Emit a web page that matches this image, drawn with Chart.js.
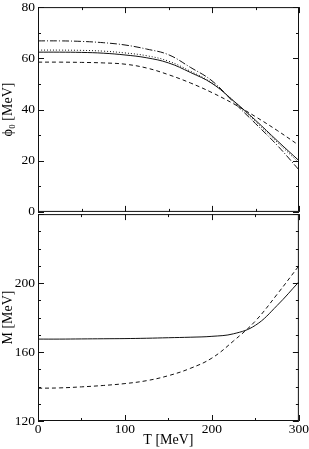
<!DOCTYPE html>
<html>
<head>
<meta charset="utf-8">
<script src="https://cdn.jsdelivr.net/npm/chart.js@4"></script>
<style>
  html, body { margin: 0; padding: 0; background: #fff; }
  #wrap { position: relative; width: 309px; height: 449px; overflow: hidden; background: #fff; }
  #wrap canvas { position: absolute; left: 0; }
  #phiChart { top: -4px; }
  #massChart { top: 203px; }
</style>
</head>
<body>
<div id="wrap">
  <canvas id="phiChart" width="309" height="227"></canvas>
  <canvas id="massChart" width="309" height="246"></canvas>
</div>
<script>
// temperatures T [MeV]
const temps = [0, 25, 50, 75, 100, 125, 150, 175, 200, 225, 250, 275, 300];

// top panel: phi_0 [MeV]
const phiSolid   = [62.4, 62.4, 62.3, 62.0, 61.3, 60.2, 58.2, 54.5, 50.2, 43.3, 35.8, 27.8, 20.0];
const phiDotted  = [63.2, 63.2, 63.1, 62.8, 62.1, 61.0, 58.9, 55.0, 50.4, 43.3, 35.3, 27.2, 19.2];
const phiDashDot = [66.8, 66.8, 66.6, 66.1, 65.2, 63.6, 61.4, 56.5, 51.2, 42.8, 34.5, 26.0, 16.4];
const phiDashed  = [58.5, 58.5, 58.4, 58.2, 57.7, 56.2, 53.6, 50.4, 46.6, 42.2, 37.2, 31.8, 26.0];

// bottom panel: M [MeV]
const massSolid  = [167.5, 167.5, 167.6, 167.7, 167.8, 168.0, 168.3, 168.6, 169.1, 170.6, 175.5, 187.0, 200.7];
const massDashed = [139.0, 139.2, 139.8, 140.6, 141.7, 143.4, 146.3, 150.5, 156.5, 166.5, 178.0, 193.5, 210.0];

const xTicks = [0, 100, 200, 300];
const phiTicks = [0, 20, 40, 60, 80];
const massTicks = [120, 160, 200];

const serif = "'Liberation Serif', 'Times New Roman', serif";
const pts = arr => temps.map((t, i) => ({ x: t, y: arr[i] }));

// frame round the plot and inward ticks on all four sides
const frameTicks = {
  id: 'frameTicks',
  afterDraw(chart, args, o) {
    const { ctx, chartArea: a, scales: { x, y } } = chart;
    ctx.save();
    ctx.strokeStyle = '#111';
    ctx.lineWidth = 1;
    ctx.strokeRect(a.left + 0.5, a.top + 0.5, a.right - a.left - 1, a.bottom - a.top - 1);
    ctx.beginPath();
    for (let v = x.min; v <= x.max + 1e-6; v += o.xMinor) {
      const px = Math.round(x.getPixelForValue(v)) + 0.5;
      const len = v % o.xMajor === 0 ? 6 : 3;
      ctx.moveTo(px, a.top); ctx.lineTo(px, a.top + len);
      ctx.moveTo(px, a.bottom); ctx.lineTo(px, a.bottom - len);
    }
    for (let v = y.min; v <= y.max + 1e-6; v += o.yMinor) {
      const py = Math.round(y.getPixelForValue(v)) + 0.5;
      const len = (v - y.min) % o.yMajor === 0 ? 6 : 3;
      ctx.moveTo(a.left, py); ctx.lineTo(a.left + len, py);
      ctx.moveTo(a.right, py); ctx.lineTo(a.right - len, py);
    }
    ctx.stroke();
    ctx.restore();
  }
};

const line = (data, dash) => ({
  data: pts(data),
  borderColor: '#111',
  borderWidth: 1,
  borderDash: dash,
  pointRadius: 0,
  fill: false,
  tension: 0.4
});

const yAxis = (min, max, step, ticks, title) => ({
  type: 'linear',
  min: min,
  max: max,
  afterFit: s => { s.width = 38; },
  grid: { display: false, drawTicks: false },
  border: { display: false },
  ticks: {
    stepSize: step,
    padding: 3,
    color: '#000',
    font: { family: serif, size: 13.5 },
    callback: v => ticks.includes(v) ? String(v) : ''
  },
  title: {
    display: true,
    text: title,
    color: '#000',
    padding: 0,
    font: { family: serif, size: 14 }
  }
});

Chart.defaults.animation = false;

// Top panel
new Chart(document.getElementById('phiChart'), {
  type: 'line',
  data: {
    datasets: [
      line(phiDashDot, [7, 2, 1, 2]),
      line(phiDotted, [1, 2]),
      line(phiSolid, []),
      line(phiDashed, [4, 3])
    ]
  },
  options: {
    responsive: false,
    devicePixelRatio: 1,
    layout: { padding: { top: 10, bottom: 10, left: 0, right: 10 } },
    plugins: {
      legend: { display: false },
      tooltip: { enabled: false },
      frameTicks: { xMinor: 50, xMajor: 100, yMinor: 10, yMajor: 20 }
    },
    scales: {
      x: { type: 'linear', min: 0, max: 300, display: false },
      y: yAxis(0, 80, 20, phiTicks, 'ϕ₀ [MeV]')
    }
  },
  plugins: [frameTicks]
});

// Bottom panel
new Chart(document.getElementById('massChart'), {
  type: 'line',
  data: {
    datasets: [
      line(massSolid, []),
      line(massDashed, [4, 3])
    ]
  },
  options: {
    responsive: false,
    devicePixelRatio: 1,
    layout: { padding: { top: 10, bottom: 0, left: 0, right: 10 } },
    plugins: {
      legend: { display: false },
      tooltip: { enabled: false },
      frameTicks: { xMinor: 50, xMajor: 100, yMinor: 10, yMajor: 40 }
    },
    scales: {
      x: {
        type: 'linear',
        min: 0,
        max: 300,
        afterFit: s => { s.height = 28; },
        grid: { display: false, drawTicks: false },
        border: { display: false },
        ticks: {
          stepSize: 100,
          padding: 0,
          maxRotation: 0,
          color: '#000',
          font: { family: serif, size: 13.5 },
          callback: v => xTicks.includes(v) ? String(v) : ''
        },
        title: {
          display: true,
          text: 'T [MeV]',
          color: '#000',
          padding: 0,
          font: { family: serif, size: 14 }
        }
      },
      y: yAxis(120, 240, 40, massTicks, 'M [MeV]')
    }
  },
  plugins: [frameTicks]
});
</script>
</body>
</html>
